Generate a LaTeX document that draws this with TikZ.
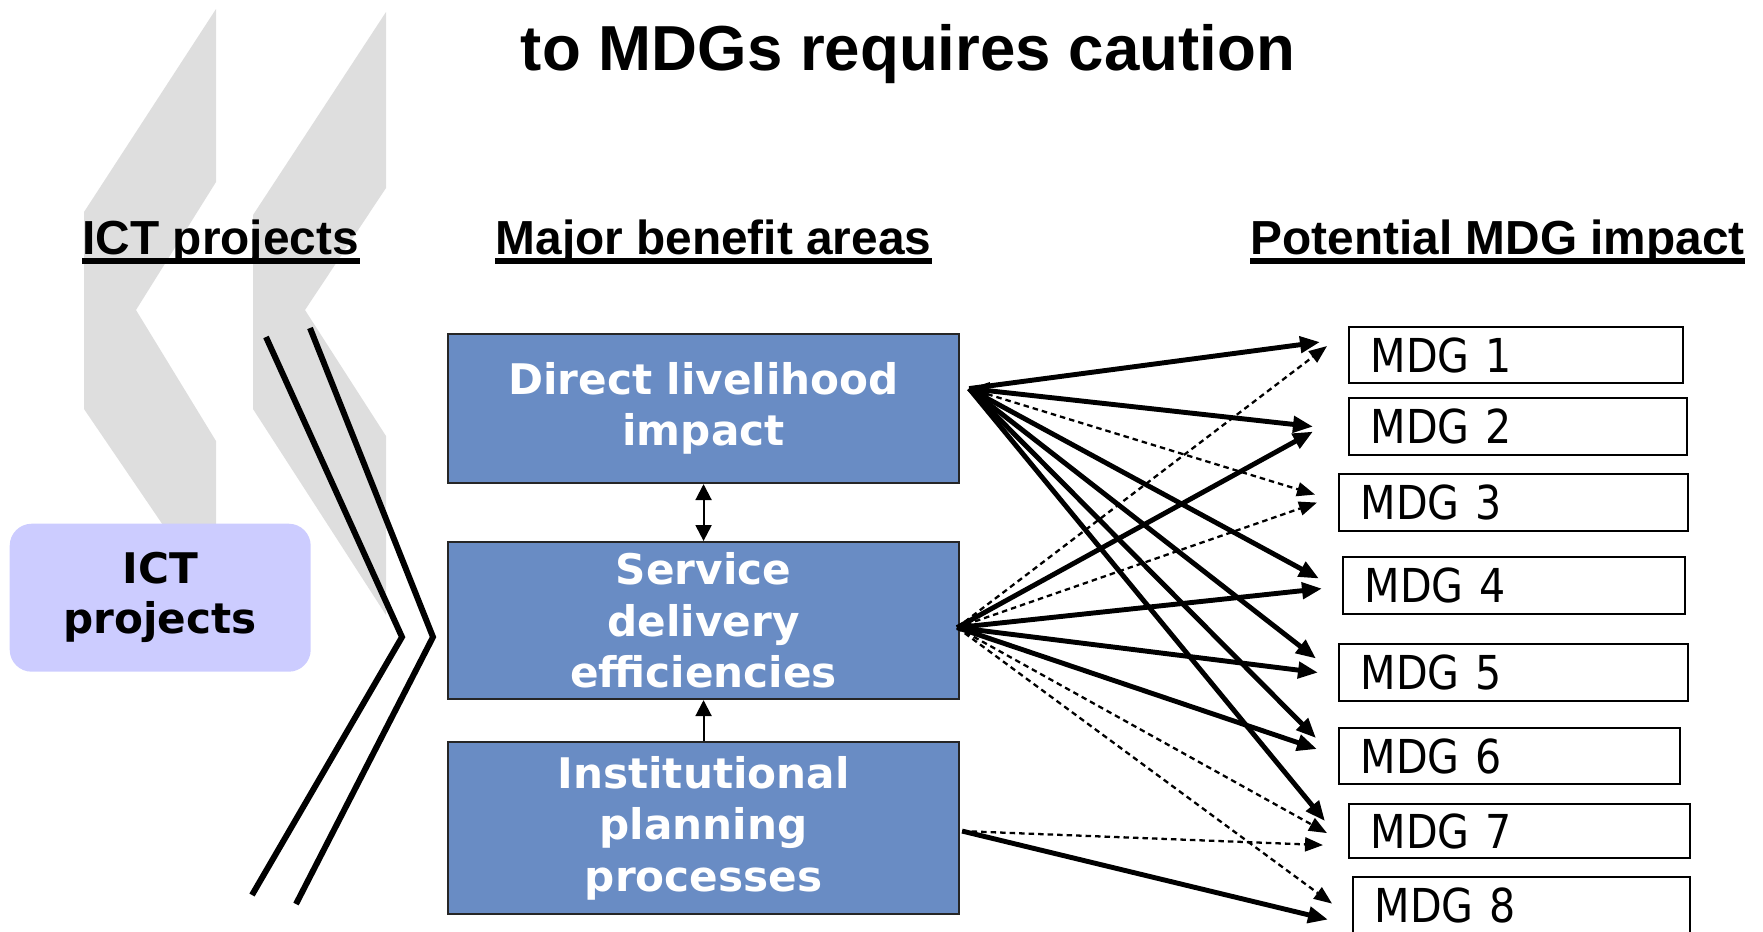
\documentclass[tikz,border=0pt]{standalone}
\usepackage{fontspec}
\setmainfont{Liberation Sans}
\newfontfamily\boxfont{DejaVu Sans}
\newfontfamily\mdgfont{DejaVu Sans}[FakeStretch=0.88]
\usetikzlibrary{arrows.meta,calc}
\definecolor{benefitblue}{RGB}{105,140,196}
\definecolor{projlilac}{RGB}{204,204,255}
\definecolor{chevgrey}{RGB}{222,222,222}

\begin{document}
\begin{tikzpicture}[x=0.1mm, y=-0.1mm,
  heading/.style={anchor=base west, inner sep=0pt, font=\fontsize{13.6}{16}\selectfont\bfseries},
  underl/.style={line width=1.5pt},
  benefit/.style={draw=black!85, line width=0.6pt, fill=benefitblue, text=white, align=center,
    anchor=north west, inner sep=0pt, minimum width=51.1mm, font=\boxfont\fontsize{12}{14.6}\selectfont\bfseries},
  mdg/.style={draw, line width=0.6pt, anchor=north west, inner xsep=2.15mm, inner ysep=0pt,
    text width=#1, align=left, font=\mdgfont\fontsize{13.3}{16}\selectfont},
  solidarr/.style={-{Triangle[length=2.0mm,width=1.6mm]}, line width=1.4pt},
  dasharr/.style={-{Triangle[length=1.8mm,width=1.4mm]}, line width=0.65pt, dash pattern=on 0.55mm off 0.4mm},
  linkarr/.style={line width=0.6pt},
  chevline/.style={line width=1.7pt}
]
\def\tipsize{Triangle[length=1.6mm,width=1.6mm]}
\def\headsize{Triangle[length=2.0mm,width=1.6mm]}
\useasboundingbox (0,0) rectangle (1763,931);

% GREY CHEVRONS (background)
\fill[chevgrey] (216,9) -- (216,182) -- (136,310) -- (216,441) -- (216,603) -- (84,409) -- (84,212) -- cycle;
\fill[chevgrey] (386,12) -- (386,188) -- (305,310) -- (386,436) -- (386,615) -- (253,409) -- (253,215) -- cycle;

% TITLE
\node [anchor=base, font=\fontsize{18.1}{22}\selectfont\bfseries] (title) at (908,70) {to MDGs requires caution};

% HEADINGS
\node [heading] (hict) at (82,254) {ICT projects};
\node [heading] (hbenefit) at (495,254) {Major benefit areas};
\node [heading] (hmdg) at (1250,254) {Potential MDG impact};
\draw[underl] ([yshift=-0.7mm]hict.base west) -- ([yshift=-0.7mm]hict.base east);
\draw[underl] ([yshift=-0.7mm]hbenefit.base west) -- ([yshift=-0.7mm]hbenefit.base east);
\draw[underl] ([yshift=-0.7mm]hmdg.base west) -- ([yshift=-0.7mm]hmdg.base east);

% LEFT COLUMN
\node [fill=projlilac, rounded corners=2.2mm, anchor=north west, minimum width=30.1mm, minimum height=14.8mm,
  align=center, font=\boxfont\fontsize{12}{14.3}\selectfont\bfseries] (ict) at (9,523) {ICT\\projects};
\draw[chevline] (266,337) -- (402,637) -- (252,895);
\draw[chevline] (310,328) -- (433,637) -- (296,904);

% MIDDLE COLUMN
\node [benefit, minimum height=14.9mm] (direct) at (447,333) {Direct livelihood\\impact};
\node [benefit, minimum height=15.7mm] (service) at (447,541) {Service\\delivery\\efficiencies};
\node [benefit, minimum height=17.2mm] (instit) at (447,741) {Institutional\\planning\\processes};
\draw[linkarr, {\tipsize}-{\tipsize}] (direct.south) -- (service.north);
\draw[linkarr, -{\tipsize}] (instit.north) -- (service.south);

% RIGHT COLUMN
\node [mdg=29.1mm, minimum height=5.6mm] (mdg1) at (1348,326) {MDG 1};
\node [mdg=29.5mm, minimum height=5.7mm] (mdg2) at (1348,397) {MDG 2};
\node [mdg=30.6mm, minimum height=5.7mm] (mdg3) at (1338,473) {MDG 3};
\node [mdg=29.9mm, minimum height=5.7mm] (mdg4) at (1342,556) {MDG 4};
\node [mdg=30.6mm, minimum height=5.7mm] (mdg5) at (1338,643) {MDG 5};
\node [mdg=29.8mm, minimum height=5.6mm] (mdg6) at (1338,727) {MDG 6};
\node [mdg=29.8mm, minimum height=5.4mm] (mdg7) at (1348,803) {MDG 7};
\node [mdg=29.4mm, minimum height=5.7mm] (mdg8) at (1352,876) {MDG 8};

% LINKS
\coordinate (hubA) at ($(direct.east)+(9,-20)$);
\coordinate (hubB) at ($(service.east)+(-3,7)$);
\coordinate (hubC) at ($(instit.east)+(2,3)$);

\draw[solidarr] (hubA) -- ($(mdg1.west)+(-28,-13)$);
\draw[solidarr, {\headsize}-{\headsize}] (hubA) -- ($(mdg2.west)+(-35,0)$);
\draw[dasharr] (hubA) -- ($(mdg3.west)+(-23,-8)$);
\draw[solidarr] (hubA) -- ($(mdg4.west)+(-23,-7)$);
\draw[solidarr] (hubA) -- ($(mdg5.west)+(-22,-14)$);
\draw[solidarr] (hubA) -- ($(mdg6.west)+(-22,-18)$);
\draw[solidarr] (hubA) -- ($(mdg7.west)+(-23,-10)$);

\draw[dasharr] (hubB) -- ($(mdg1.west)+(-21,-9)$);
\draw[solidarr] (hubB) -- ($(mdg2.west)+(-35,5)$);
\draw[dasharr] (hubB) -- ($(mdg3.west)+(-21,0)$);
\draw[solidarr] (hubB) -- ($(mdg4.west)+(-20,3)$);
\draw[solidarr] (hubB) -- ($(mdg5.west)+(-20,0)$);
\draw[solidarr] (hubB) -- ($(mdg6.west)+(-21,-7)$);
\draw[dasharr] (hubB) -- ($(mdg7.west)+(-21,2)$);
\draw[dasharr] (hubB) -- ($(mdg8.west)+(-20,-2)$);

\draw[dasharr] (hubC) -- ($(mdg7.west)+(-25,14)$);
\draw[solidarr] (hubC) -- ($(mdg8.west)+(-24,14)$);

\end{tikzpicture}
\end{document}
